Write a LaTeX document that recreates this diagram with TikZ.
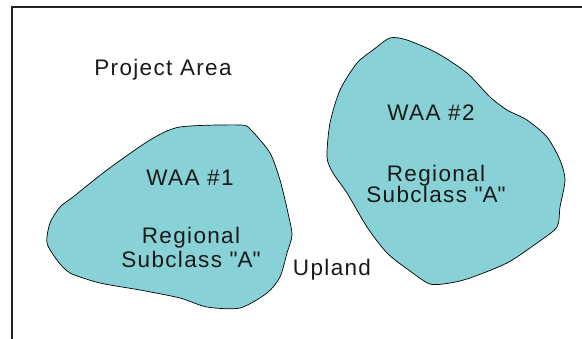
\documentclass[tikz,border=0pt]{standalone}
\usepackage{fontspec}
\setmainfont{Liberation Sans}[LetterSpace=6]
\definecolor{waafill}{RGB}{136,210,215}
\definecolor{framec}{RGB}{34,34,34}
\begin{document}
\begin{tikzpicture}[x=1pt,y=-1pt,
  lbl/.style={font=\fontsize{22.5}{24}\selectfont, anchor=base, inner sep=0pt, text=black!90},
  blob/.style={fill=waafill, draw=black, line width=0.7pt, line join=round},
  framel/.style={draw=framec, line width=2pt}]
\useasboundingbox (0,0) rectangle (582,339);
\draw[framel] (12,340) -- (12,7) -- (583,7);
% WAA 1
\draw[blob] plot[smooth cycle, tension=0.45] coordinates {
 (180,127) (240,125) (251,130) (270,153) (280,180) (288,213) (292,235)
 (287,253) (280,277) (267,293) (240,308) (207,307) (180,298) (140,290)
 (100,283) (70,273) (57,260) (47,243) (50,223) (60,207) (73,197)
 (107,170) (150,140)};
% WAA 2
\draw[blob] plot[smooth cycle, tension=0.45] coordinates {
 (390,38) (407,40) (437,53) (467,73) (490,97) (507,110) (527,120)
 (547,137) (560,160) (565,180) (560,207) (557,227) (537,243) (507,263)
 (470,278) (450,283) (430,284) (410,271) (387,253) (367,227) (347,193)
 (333,173) (327,157) (330,123) (340,90) (357,63) (373,50)};
\node[lbl] (proj) at (163,76) {Project Area};
\node[lbl] (waa1) at (190,186) {WAA \#1};
\node[lbl] (reg1) at (191,244) {Regional};
\node[lbl] (sub1) at (191,268) {Subclass \textquotedbl A\textquotedbl};
\node[lbl] (waa2) at (431,121) {WAA \#2};
\node[lbl] (reg2) at (436,182) {Regional};
\node[lbl] (sub2) at (436,203) {Subclass \textquotedbl A\textquotedbl};
\node[lbl] (upl) at (332,276) {Upland};
\end{tikzpicture}
\end{document}
